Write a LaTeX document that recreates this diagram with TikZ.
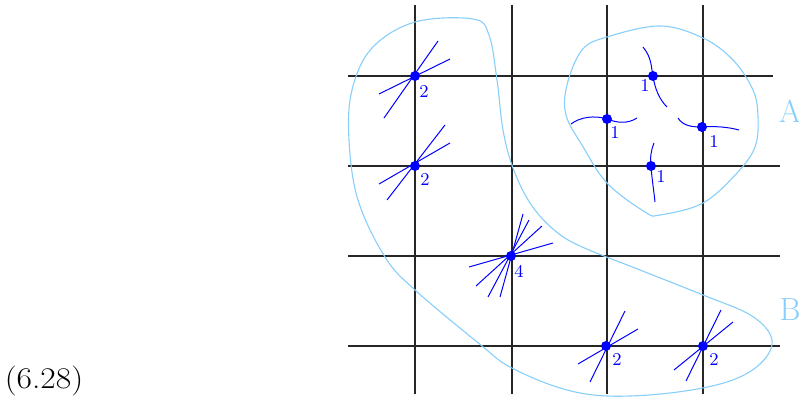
\documentclass[tikz,border=0pt]{standalone}
\usetikzlibrary{calc}
\definecolor{blobblue}{RGB}{135,206,250}
\begin{document}
\begin{tikzpicture}[x=0.5pt, y=-0.5pt,
      grid/.style={black!85, line width=0.7pt},
      leg/.style={blue, line width=0.5pt},
      blob/.style={blobblue, line width=0.55pt},
      vtx/.style={circle, fill=blue, inner sep=0pt, minimum size=5pt},
      num/.style={blue, font=\fontsize{9}{10}\selectfont, inner sep=0pt},
      tag/.style={blobblue, font=\fontsize{16}{18}\selectfont, inner sep=0pt}
    ]
      \useasboundingbox (0,0) rectangle (799,406);
      % lattice
      \foreach \x in {415,512,607,703} \draw[grid] (\x,5) -- (\x,394);
      \foreach \y/\e in {76/773,166/780,256/780,346/780} \draw[grid] (348,\y) -- (\e,\y);
      % regions
      \draw[blob] plot[smooth cycle, tension=0.6] coordinates {(582,50) (607,37) (660,26) (703,38) (733,60) (753,90) (758,117) (755,147) (737,173) (703,203) (660,215) (645,212) (607,183) (582,145) (566,115) (567,85)};
      \draw[blob] plot[smooth cycle, tension=0.6] coordinates {(415,22) (473,19) (489,35) (497,80) (503,130) (513,168) (530,203) (553,229) (580,246) (640,270) (703,295) (752,316) (772,340) (760,364) (727,382) (670,393) (607,396) (560,388) (510,367) (482,346) (415,290) (385,257) (358,200) (349,140) (352,90) (372,48)};
      \node[tag] (A) at (790,111) {A};
      \node[tag] (B) at (790,310) {B};
      % vertices
      \coordinate (p1) at (415,76);
      \coordinate (p2) at (415,166);
      \coordinate (p3) at (511,256);
      \coordinate (p4) at (606,346);
      \coordinate (p5) at (703,346);
      \coordinate (q1) at (653,76);
      \coordinate (q2) at (607,119);
      \coordinate (q3) at (702,127);
      \coordinate (q4) at (651,166);
      \foreach \a/\b/\c/\d in {-36/18/35/-17, -31/42/23/-35}
        \draw[leg] ([shift={(\a,\b)}]p1) -- ([shift={(\c,\d)}]p1);
      \foreach \a/\b/\c/\d in {-36/18/35/-23, -28/34/30/-41}
        \draw[leg] ([shift={(\a,\b)}]p2) -- ([shift={(\c,\d)}]p2);
      \foreach \a/\b/\c/\d in {-42/11/42/-13, -35/30/31/-30, -23/41/18/-36, -11/41/12/-42}
        \draw[leg] ([shift={(\a,\b)}]p3) -- ([shift={(\c,\d)}]p3);
      \foreach \a/\b/\c/\d in {-28/18/32/-17, -16/36/19/-35}
        \draw[leg] ([shift={(\a,\b)}]p4) -- ([shift={(\c,\d)}]p4);
      \foreach \a/\b/\c/\d in {-29/24/30/-24, -17/35/18/-36}
        \draw[leg] ([shift={(\a,\b)}]p5) -- ([shift={(\c,\d)}]p5);
      \draw[leg] (643,47) .. controls (652,58) and (651,67) .. (q1) .. controls (655,90) and (660,100) .. (667,107);
      \draw[leg] (571,124) .. controls (580,117) and (595,115) .. (q2) .. controls (617,123) and (628,124) .. (637,118);
      \draw[leg] (678,118) .. controls (683,126) and (692,127) .. (q3) .. controls (715,126) and (728,127) .. (739,130);
      \draw[leg] (654,143) .. controls (651,150) and (650,158) .. (q4) .. controls (652,180) and (654,192) .. (655,202);
      \foreach \v in {p1,p2,p3,p4,p5,q1,q2,q3,q4}
        \node[vtx] (d\v) at (\v) {};
      % weights
      \node[num] (w1) at (424,92) {2};
      \node[num] (w2) at (425,180) {2};
      \node[num] (w3) at (519,271) {4};
      \node[num] (w4) at (617,360) {2};
      \node[num] (w5) at (714,360) {2};
      \node[num] (u1) at (645,86) {1};
      \node[num] (u2) at (615,133) {1};
      \node[num] (u3) at (714,142) {1};
      \node[num] (u4) at (661,177) {1};
      \node[font=\fontsize{15}{17}\selectfont, inner sep=0pt] (eq) at (44,381) {\scalebox{1.12}[1]{(6.28)}};
    \end{tikzpicture}
\end{document}
